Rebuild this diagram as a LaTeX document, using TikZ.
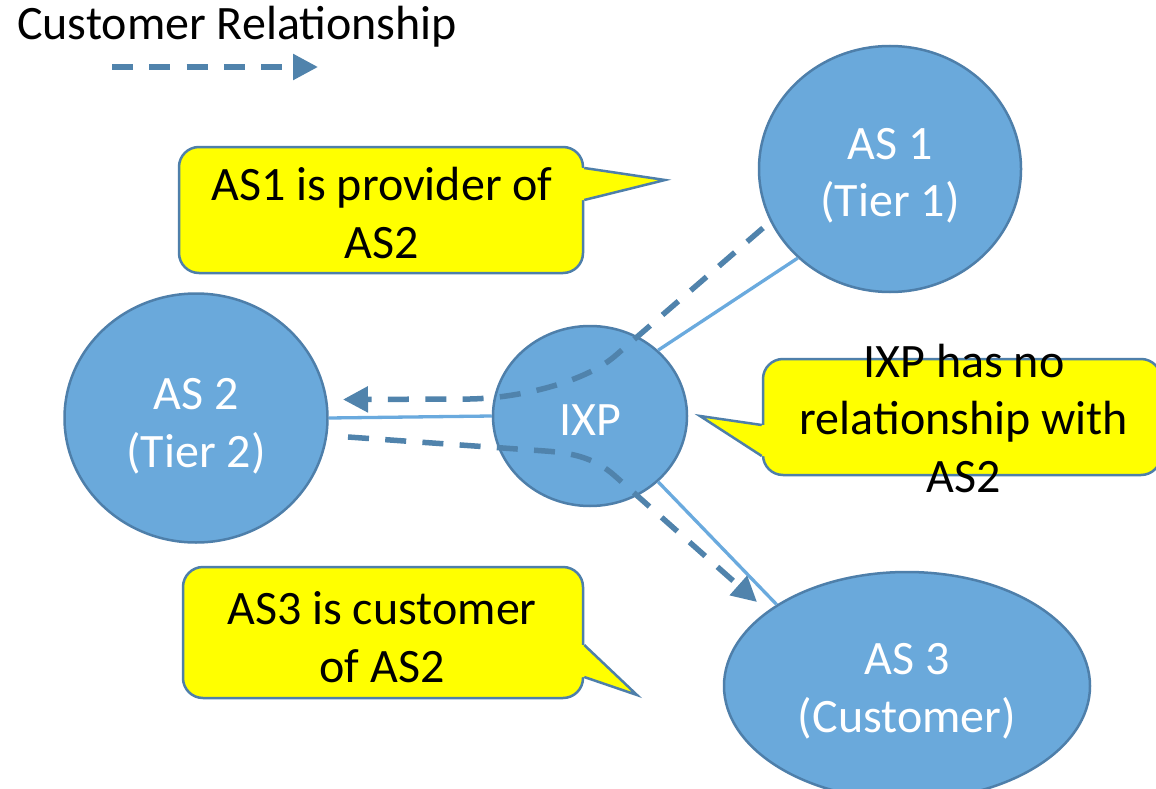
\documentclass[tikz,border=0pt]{standalone}
\usepackage{fontspec}
\setmainfont{Carlito}
\usetikzlibrary{shapes.geometric,arrows.meta,calc}
\definecolor{asfill}{RGB}{106,169,219}
\definecolor{asline}{RGB}{78,127,170}
\definecolor{linkblue}{RGB}{106,170,222}
\definecolor{relblue}{RGB}{80,131,172}
\definecolor{notefill}{RGB}{255,255,0}
\newcommand\diagfont{\fontsize{48}{57.5}\selectfont}
\begin{document}
\begin{tikzpicture}[x=1pt,y=-1pt,
  asnode/.style={ellipse, draw=asline, line width=2.5pt, fill=asfill, inner sep=0pt},
  astext/.style={text=white, align=center, font=\diagfont, inner sep=0pt},
  link/.style={draw=linkblue, line width=3.3pt},
  rel/.style={draw=relblue, line width=5.5pt, dash pattern=on 21pt off 16.3pt,
              -{Triangle[length=25pt,width=25pt]}},
  note/.style={rectangle, rounded corners=20pt, draw=asline, line width=2.5pt,
               fill=notefill, inner sep=0pt},
  notetail/.style={draw=asline, line width=2.5pt, line join=miter},
  notetext/.style={text=black, align=center, font=\diagfont, inner sep=0pt},
]
% canvas
\fill[white] (0,0) rectangle (1156,789);
\useasboundingbox (0,0) rectangle (1156,789);

% legend
\node[anchor=base west, font=\diagfont, inner sep=0pt] (legend) at (17,40) {Customer Relationship};
\coordinate (leg1) at (112,67);
\coordinate (leg2) at (318,67);
\draw[rel] (leg1) -- (leg2);

% autonomous systems and the exchange point
\node[asnode, minimum width=262pt, minimum height=246pt] (as1) at (890,169) {};
\node[asnode, minimum width=263pt, minimum height=249pt] (as2) at (196,418) {};
\node[asnode, minimum width=194pt, minimum height=180pt] (ixp) at (590,416) {};
\node[asnode, minimum width=366pt, minimum height=228pt] (as3) at (907,686) {};

% physical links
\draw[link] (as2.east) -- (ixp.west);
\draw[link] (ixp.44) -- (as1.224);
\draw[link] (ixp.-44) -- (as3.148);

% labels
\node[astext] (as1t) at (890,176) {AS 1\\(Tier 1)};
\node[astext] (as2t) at (196,426) {AS 2\\(Tier 2)};
\node[astext] (ixpt) at (590,420) {IXP};
\node[astext] (as3t) at (907,691) {AS 3\\(Customer)};

% customer relationships
\coordinate (a1) at (763,228);
\coordinate (a2) at (343,399.5);
\draw[rel] (a1) -- (615,356) .. controls (585,382) and (520,398) .. (470,399) -- (a2);
\coordinate (b1) at (348,437);
\coordinate (b2) at (757,602);
\draw[rel] (b1) -- (545,451) .. controls (575,453) and (596,459) .. (615,476) -- (b2);

% callout: AS1 is provider of AS2
\node[note, minimum width=404pt, minimum height=126pt] (n1) at (381,210) {};
\coordinate (n1tip) at (665,180);
\fill[notefill] ($(n1.east)+(-4,-42)$) -- ($(n1.east)+(0,-42)$) -- (n1tip)
  -- ($(n1.east)+(0,-10)$) -- ($(n1.east)+(-4,-10)$) -- cycle;
\draw[notetail] ($(n1.east)+(0,-42)$) -- (n1tip) -- ($(n1.east)+(0,-10)$);
\node[notetext] (n1t) at (382,213) {AS1 is provider of\\AS2};

% callout: AS3 is customer of AS2
\node[note, minimum width=400pt, minimum height=131pt] (n2) at (383,632.5) {};
\coordinate (n2tip) at (637,695);
\fill[notefill] ($(n2.east)+(-4,12.5)$) -- ($(n2.east)+(0,12.5)$) -- (n2tip)
  -- ($(n2.east)+(0,44.5)$) -- ($(n2.east)+(-4,44.5)$) -- cycle;
\draw[notetail] ($(n2.east)+(0,12.5)$) -- (n2tip) -- ($(n2.east)+(0,44.5)$);
\node[notetext] (n2t) at (382,637) {AS3 is customer\\of AS2};

% callout: IXP has no relationship with AS2
\node[note, minimum width=398pt, minimum height=116pt] (n3) at (962,417) {};
\coordinate (n3tip) at (700,416);
\fill[notefill] ($(n3.west)+(4,8)$) -- ($(n3.west)+(0,8)$) -- (n3tip)
  -- ($(n3.west)+(0,39)$) -- ($(n3.west)+(4,39)$) -- cycle;
\draw[notetail] ($(n3.west)+(0,8)$) -- (n3tip) -- ($(n3.west)+(0,39)$);
\node[notetext] (n3t) at (964,418) {IXP has no\\relationship with\\AS2};
\end{tikzpicture}
\end{document}
